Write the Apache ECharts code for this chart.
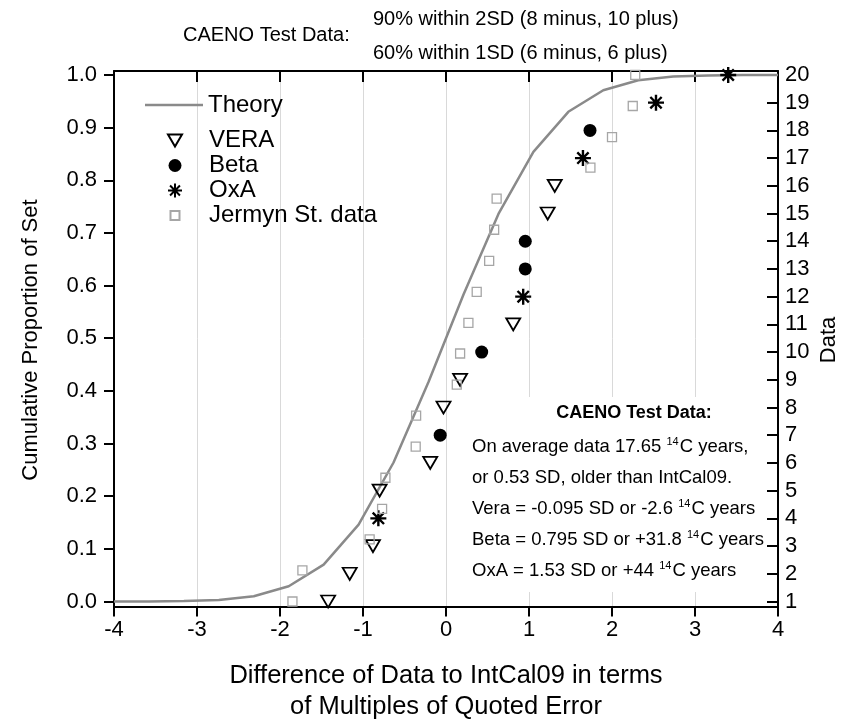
<!DOCTYPE html>
<html>
<head>
<meta charset="utf-8">
<script src="https://cdn.jsdelivr.net/npm/echarts@6/dist/echarts.min.js"></script>
<style>html,body{margin:0;padding:0;background:#fff;}#c{width:848px;height:725px;}</style>
</head>
<body>
<div id="c"></div>
<script>
// Theory curve (normal CDF)
const theoryX = [-4, -3.579, -3.158, -2.737, -2.316, -1.895, -1.474, -1.053, -0.632, -0.211, 0.211, 0.632, 1.053, 1.474, 1.895, 2.316, 2.737, 3.158, 3.579, 4];
const theoryY = [0.000, 0.000, 0.001, 0.003, 0.010, 0.029, 0.070, 0.146, 0.264, 0.417, 0.583, 0.736, 0.854, 0.930, 0.971, 0.990, 0.997, 0.999, 1.000, 1.000];

// CAENO test data: difference (multiples of error) and rank (right axis "Data")
const veraX = [-1.42, -1.16, -0.88, -0.80, -0.19, -0.03, 0.17, 0.81, 1.225, 1.31];
const veraRank = [1, 2, 3, 5, 6, 8, 9, 11, 15, 16];
const betaX = [-0.07, 0.43, 0.955, 0.955, 1.735];
const betaRank = [7, 10, 13, 14, 18];
const oxaX = [-0.815, 0.93, 1.65, 2.53, 3.40];
const oxaRank = [4, 12, 17, 19, 20];

// Jermyn St. data: difference and cumulative proportion (left axis)
const jermynX = [-1.85, -1.73, -0.92, -0.77, -0.73, -0.365, -0.36, 0.13, 0.17, 0.27, 0.37, 0.52, 0.58, 0.61, 1.74, 2.00, 2.25, 2.28];
const jermynY = [0.000, 0.059, 0.118, 0.176, 0.235, 0.294, 0.353, 0.412, 0.471, 0.529, 0.588, 0.647, 0.706, 0.765, 0.824, 0.882, 0.941, 1.000];

// Tick labels
const xTicks = [-4, -3, -2, -1, 0, 1, 2, 3, 4];
const leftTicks = [0.0, 0.1, 0.2, 0.3, 0.4, 0.5, 0.6, 0.7, 0.8, 0.9, 1.0];
const rightTicks = [1, 2, 3, 4, 5, 6, 7, 8, 9, 10, 11, 12, 13, 14, 15, 16, 17, 18, 19, 20];

const FONT = 'Liberation Sans, Arial, Helvetica, sans-serif';
const yMin = -0.0095, yMax = 1.0075;
const rMin = 1 + 19 * yMin, rMax = 1 + 19 * yMax;

const zip = (a, b) => a.map((v, i) => [v, b[i]]);
const star = 'path://M0,-10L0,10M-10,0L10,0M-7.07,-7.07L7.07,7.07M-7.07,7.07L7.07,-7.07';
// legend icons drawn in a full-width (58x14) box so they keep the plotted size and stay centred
const triIcon = 'path://M0,0M58,14M22,1L36,1L29,13Z';
const sqIcon = 'path://M0,0M58,14M24.5,2.5L33.5,2.5L33.5,11.5L24.5,11.5Z';
const starIcon = 'path://M0,0M58,14M29,-0.5L29,14.5M21.5,7L36.5,7M23.7,1.7L34.3,12.3M23.7,12.3L34.3,1.7';
const dotIcon = 'path://M0,0M58,14M35.5,7A6.5,6.5,0,1,1,22.5,7A6.5,6.5,0,1,1,35.5,7Z';

const chart = echarts.init(document.getElementById('c'), null, {renderer: 'canvas'});
const axisLine = {show: true, onZero: false, lineStyle: {color: '#000', width: 2}};
const sup = {s: {fontSize: 11, verticalAlign: 'top', padding: [0, 1, 10, 0], fontFamily: FONT}};
const noteStyle = (t) => ({text: t, fontSize: 18.5, fontFamily: FONT, fill: '#000', textAlign: 'left', textVerticalAlign: 'middle', rich: sup});

chart.setOption({
  animation: false,
  backgroundColor: '#fff',
  textStyle: {fontFamily: FONT},
  grid: {left: 114, right: 70, top: 71, bottom: 118.5, containLabel: false},
  legend: [
    {
      data: [{name: 'Theory', icon: 'rect'}], orient: 'vertical', left: 140, top: 87,
      itemWidth: 58, itemHeight: 2.5, itemGap: 0, itemTextGap: 10,
      textStyle: {fontSize: 24, lineHeight: 26, color: '#000', fontFamily: FONT}
    },
    {
      data: [{name: 'VERA', icon: triIcon}, {name: 'Beta', icon: dotIcon}, {name: 'OxA', icon: starIcon}, {name: 'Jermyn St. data', icon: sqIcon}],
      orient: 'vertical', left: 140, top: 123,
      itemWidth: 58, itemHeight: 14, itemGap: 0, itemTextGap: 4,
      textStyle: {fontSize: 24, lineHeight: 25, color: '#000', fontFamily: FONT}
    }
  ],
  xAxis: [
    {
      type: 'value', min: -4, max: 4, interval: 1, position: 'bottom',
      axisLine: axisLine,
      axisTick: {show: true, inside: false, length: 10, lineStyle: {color: '#000', width: 2}},
      axisLabel: {show: true, margin: 12, fontSize: 22, color: '#000', fontFamily: FONT,
        customValues: xTicks, formatter: v => String(v)},
      splitLine: {show: true, lineStyle: {color: '#d9d9d9', width: 1}}
    },
    {
      type: 'value', min: -4, max: 4, interval: 1, position: 'top',
      axisLine: axisLine,
      axisTick: {show: true, inside: true, length: 11, lineStyle: {color: '#000', width: 2}},
      axisLabel: {show: false},
      splitLine: {show: false}
    }
  ],
  yAxis: [
    {
      type: 'value', min: yMin, max: yMax, position: 'left',
      axisLine: axisLine,
      axisTick: {show: true, inside: false, length: 10, customValues: leftTicks, lineStyle: {color: '#000', width: 2}},
      axisLabel: {show: true, margin: 17, fontSize: 22, color: '#000', fontFamily: FONT,
        customValues: leftTicks, formatter: v => v.toFixed(1)},
      splitLine: {show: false}
    },
    {
      type: 'value', min: rMin, max: rMax, position: 'right',
      axisLine: axisLine,
      axisTick: {show: true, inside: true, length: 11, customValues: rightTicks, lineStyle: {color: '#000', width: 2}},
      axisLabel: {show: true, margin: 7, fontSize: 22, color: '#000', fontFamily: FONT,
        customValues: rightTicks, formatter: v => String(Math.round(v))},
      splitLine: {show: false}
    }
  ],
  series: [
    {
      name: 'Theory', type: 'line', xAxisIndex: 0, yAxisIndex: 0,
      data: zip(theoryX, theoryY), symbol: 'none', showSymbol: false, smooth: false,
      lineStyle: {color: '#8a8a8a', width: 2.5},
      itemStyle: {color: '#8a8a8a'}, z: 2
    },
    {
      name: 'VERA', type: 'scatter', xAxisIndex: 0, yAxisIndex: 1,
      data: zip(veraX, veraRank), symbol: 'triangle', symbolRotate: 180, symbolSize: [14, 12],
      itemStyle: {color: 'rgba(0,0,0,0)', borderColor: '#000', borderWidth: 1.8, opacity: 1}, z: 3
    },
    {
      name: 'Beta', type: 'scatter', xAxisIndex: 0, yAxisIndex: 1,
      data: zip(betaX, betaRank), symbol: 'circle', symbolSize: 13,
      itemStyle: {color: '#000', opacity: 1}, z: 3
    },
    {
      name: 'OxA', type: 'scatter', xAxisIndex: 0, yAxisIndex: 1,
      data: zip(oxaX, oxaRank), symbol: star, symbolSize: 16, symbolKeepAspect: true,
      itemStyle: {color: 'rgba(0,0,0,0)', borderColor: '#000', borderWidth: 2.4, opacity: 1}, z: 3
    },
    {
      name: 'Jermyn St. data', type: 'scatter', xAxisIndex: 0, yAxisIndex: 0,
      data: zip(jermynX, jermynY), symbol: 'rect', symbolSize: 9,
      itemStyle: {color: 'rgba(0,0,0,0)', borderColor: '#a6a6a6', borderWidth: 1.3, opacity: 1}, z: 4
    }
  ],
  graphic: [
    {type: 'rect', z: 1, shape: {x: 462, y: 397, width: 304, height: 195}, style: {fill: '#fff'}},
    {type: 'text', z: 5, x: 31, y: 340, rotation: Math.PI / 2,
      style: {text: 'Cumulative Proportion of Set', fontSize: 22, fontFamily: FONT, fill: '#000', textAlign: 'center', textVerticalAlign: 'middle'}},
    {type: 'text', z: 5, x: 829, y: 340, rotation: Math.PI / 2,
      style: {text: 'Data', fontSize: 22, fontFamily: FONT, fill: '#000', textAlign: 'center', textVerticalAlign: 'middle'}},
    {type: 'text', z: 5, x: 446, y: 676,
      style: {text: 'Difference of Data to IntCal09 in terms', fontSize: 25.5, fontFamily: FONT, fill: '#000', textAlign: 'center', textVerticalAlign: 'middle'}},
    {type: 'text', z: 5, x: 446, y: 707,
      style: {text: 'of Multiples of Quoted Error', fontSize: 25.5, fontFamily: FONT, fill: '#000', textAlign: 'center', textVerticalAlign: 'middle'}},
    {type: 'text', z: 5, x: 183, y: 35,
      style: {text: 'CAENO Test Data:', fontSize: 20, fontFamily: FONT, fill: '#000', textAlign: 'left', textVerticalAlign: 'middle'}},
    {type: 'text', z: 5, x: 373, y: 19,
      style: {text: '90% within 2SD (8 minus, 10 plus)', fontSize: 20, fontFamily: FONT, fill: '#000', textAlign: 'left', textVerticalAlign: 'middle'}},
    {type: 'text', z: 5, x: 373, y: 53,
      style: {text: '60% within 1SD (6 minus, 6 plus)', fontSize: 20, fontFamily: FONT, fill: '#000', textAlign: 'left', textVerticalAlign: 'middle'}},
    {type: 'text', z: 5, x: 634, y: 413,
      style: {text: 'CAENO Test Data:', fontSize: 18, fontWeight: 'bold', fontFamily: FONT, fill: '#000', textAlign: 'center', textVerticalAlign: 'middle'}},
    {type: 'text', z: 5, x: 472, y: 447, style: noteStyle('On average data 17.65 {s|14}C years,')},
    {type: 'text', z: 5, x: 472, y: 478, style: noteStyle('or 0.53 SD, older than IntCal09.')},
    {type: 'text', z: 5, x: 472, y: 509, style: noteStyle('Vera = -0.095 SD or -2.6 {s|14}C years')},
    {type: 'text', z: 5, x: 472, y: 540, style: noteStyle('Beta = 0.795 SD or +31.8 {s|14}C years')},
    {type: 'text', z: 5, x: 472, y: 571, style: noteStyle('OxA = 1.53 SD or +44 {s|14}C years')}
  ]
});
</script>
</body>
</html>
